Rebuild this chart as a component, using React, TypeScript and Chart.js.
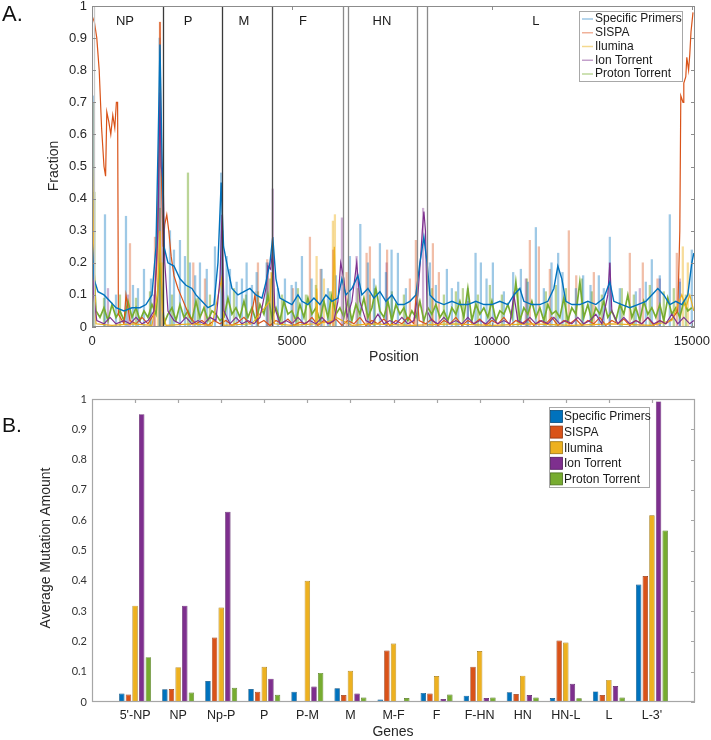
import React, { useEffect, useRef } from 'react';
import { Chart, registerables } from 'chart.js';

Chart.register(...registerables);

const FONT = '"Liberation Sans", Arial, Helvetica, sans-serif';

// ---------------- Panel A data ----------------
const positionTicks = [0, 5000, 10000, 15000];
const positionMax = 15080;
const geneNames = ['NP', 'P', 'M', 'F', 'HN', 'L'];
const geneLabelPositions = [825, 2400, 3800, 5275, 7250, 11100];
const geneBoundaries = [50, 1775, 3250, 4500, 6275, 6400, 8125, 8375];

const platforms = ['Specific Primers', 'SISPA', 'Ilumina', 'Ion Torrent', 'Proton Torrent'];

const primersTrace = [
  [0, 0.28], [50, 0.15], [150, 0.11], [300, 0.1], [450, 0.08], [600, 0.06], [800, 0.05], [1000, 0.06],
  [1200, 0.06], [1350, 0.07], [1500, 0.1], [1600, 0.25], [1650, 0.55], [1700, 0.88], [1740, 0.6],
  [1800, 0.25], [1900, 0.2], [2050, 0.19], [2200, 0.15], [2350, 0.13], [2500, 0.12], [2600, 0.1],
  [2750, 0.08], [2900, 0.06], [3050, 0.07], [3150, 0.2], [3230, 0.45], [3290, 0.25], [3400, 0.18],
  [3500, 0.12], [3650, 0.1], [3800, 0.11], [3950, 0.12], [4100, 0.1], [4250, 0.09], [4350, 0.14],
  [4450, 0.2], [4520, 0.28], [4600, 0.15], [4700, 0.09], [4850, 0.08], [5000, 0.07], [5150, 0.1],
  [5250, 0.08], [5400, 0.07], [5550, 0.09], [5700, 0.07], [5850, 0.1], [6000, 0.08], [6150, 0.09],
  [6250, 0.15], [6350, 0.1], [6500, 0.12], [6650, 0.16], [6750, 0.1], [6900, 0.12], [7050, 0.09],
  [7200, 0.11], [7350, 0.08], [7500, 0.1], [7650, 0.07], [7800, 0.07], [7950, 0.08], [8100, 0.1],
  [8200, 0.2], [8300, 0.28], [8380, 0.2], [8450, 0.1], [8600, 0.08], [8800, 0.07], [9000, 0.08],
  [9200, 0.07], [9400, 0.07], [9600, 0.08], [9800, 0.07], [10000, 0.07], [10200, 0.08], [10400, 0.07],
  [10550, 0.1], [10700, 0.12], [10800, 0.08], [11000, 0.07], [11200, 0.07], [11400, 0.08], [11550, 0.12],
  [11650, 0.19], [11750, 0.15], [11850, 0.08], [12000, 0.07], [12200, 0.07], [12400, 0.08], [12600, 0.07],
  [12800, 0.09], [12950, 0.14], [13050, 0.08], [13250, 0.07], [13450, 0.06], [13650, 0.07], [13850, 0.08],
  [14000, 0.1], [14150, 0.12], [14300, 0.1], [14450, 0.07], [14600, 0.08], [14750, 0.07], [14900, 0.1],
  [15000, 0.2], [15050, 0.23],
];
const primersSpikes = [
  [30, 0.72], [325, 0.35], [600, 0.1], [850, 0.345], [1025, 0.13], [1150, 0.12], [1300, 0.18], [1475, 0.15],
  [1690, 0.9], [1950, 0.3], [2050, 0.24], [2200, 0.27], [2325, 0.22], [2450, 0.2], [2580, 0.16], [2700, 0.2],
  [2870, 0.18], [3075, 0.25], [3230, 0.48], [3367, 0.22], [3450, 0.18], [3617, 0.14], [3750, 0.15],
  [3867, 0.2], [4000, 0.13], [4117, 0.17], [4367, 0.2], [4650, 0.12], [4825, 0.15], [4992, 0.13],
  [5100, 0.14], [5250, 0.22], [5492, 0.15], [5742, 0.18], [5900, 0.12], [6100, 0.16], [6450, 0.22],
  [6710, 0.32], [6900, 0.2], [7050, 0.15], [7200, 0.26], [7350, 0.17], [7492, 0.24], [7650, 0.23],
  [7850, 0.12], [8450, 0.2], [8600, 0.13], [8875, 0.18], [9000, 0.12], [9158, 0.14], [9400, 0.12],
  [9592, 0.23], [9725, 0.2], [9867, 0.15], [10025, 0.2], [10300, 0.11], [10533, 0.17], [10725, 0.18],
  [10900, 0.14], [11100, 0.31], [11300, 0.12], [11492, 0.2], [11658, 0.23], [11767, 0.17], [12100, 0.12],
  [12283, 0.16], [12467, 0.13], [12675, 0.16], [12800, 0.12], [12950, 0.28], [13200, 0.12], [13600, 0.11],
  [13850, 0.14], [14000, 0.21], [14200, 0.16], [14450, 0.35], [14700, 0.14], [15000, 0.24],
];

const sispaTrace = [
  [0, 0.97], [60, 0.95], [120, 0.9], [180, 0.8], [240, 0.62], [300, 0.5], [340, 0.47], [370, 0.67],
  [420, 0.64], [470, 0.6], [520, 0.66], [570, 0.62], [610, 0.7], [640, 0.7], [660, 0.04], [800, 0.01],
  [850, 0.1], [950, 0.02], [1100, 0.01], [1250, 0.03], [1400, 0.01], [1550, 0.04], [1620, 0.2], [1680, 0.6],
  [1700, 0.95], [1730, 0.5], [1780, 0.25], [1820, 0.32], [1870, 0.35], [1920, 0.3], [1980, 0.22],
  [2050, 0.16], [2150, 0.12], [2250, 0.09], [2350, 0.06], [2450, 0.03], [2600, 0.01], [2750, 0.02],
  [2900, 0.005], [3050, 0.02], [3200, 0.01], [3350, 0.02], [3500, 0.005], [3650, 0.015], [3800, 0.03],
  [3950, 0.01], [4075, 0.1], [4150, 0.01], [4300, 0.02], [4450, 0.005], [4600, 0.02], [4750, 0.01],
  [4900, 0.025], [5050, 0.005], [5200, 0.015], [5350, 0.01], [5500, 0.03], [5650, 0.005], [5800, 0.02],
  [5950, 0.01], [6100, 0.025], [6250, 0.005], [6400, 0.02], [6550, 0.01], [6700, 0.03], [6850, 0.005],
  [7000, 0.02], [7150, 0.01], [7300, 0.025], [7450, 0.005], [7600, 0.02], [7750, 0.01], [7900, 0.03],
  [8050, 0.01], [8120, 0.12], [8180, 0.02], [8350, 0.01], [8500, 0.025], [8650, 0.005], [8800, 0.02],
  [8950, 0.01], [9100, 0.03], [9250, 0.005], [9400, 0.02], [9550, 0.01], [9700, 0.025], [9850, 0.005],
  [10000, 0.02], [10150, 0.01], [10300, 0.03], [10450, 0.005], [10600, 0.02], [10750, 0.01], [10900, 0.025],
  [11050, 0.005], [11200, 0.02], [11350, 0.01], [11500, 0.03], [11650, 0.005], [11800, 0.02], [11950, 0.01],
  [12100, 0.025], [12250, 0.005], [12400, 0.02], [12550, 0.01], [12700, 0.03], [12850, 0.005], [13000, 0.02],
  [13150, 0.01], [13300, 0.025], [13450, 0.005], [13600, 0.02], [13750, 0.01], [13900, 0.03], [14050, 0.005],
  [14200, 0.02], [14350, 0.01], [14500, 0.025], [14650, 0.05], [14700, 0.3], [14725, 0.72], [14780, 0.7],
  [14800, 0.76], [14850, 0.78], [14875, 0.84], [14920, 0.8], [14950, 0.85], [14980, 0.92], [15030, 0.98],
];
const sispaSpikes = [
  [950, 0.26], [1575, 0.28], [1700, 0.95], [2533, 0.2], [2825, 0.15], [4150, 0.2], [4383, 0.21],
  [5025, 0.12], [5450, 0.28], [5717, 0.18], [6033, 0.24], [6367, 0.17], [6867, 0.23], [6950, 0.25],
  [7380, 0.24], [7950, 0.15], [8100, 0.27], [8525, 0.26], [8675, 0.17], [10950, 0.27], [11175, 0.25],
  [11450, 0.18], [11925, 0.3], [12110, 0.16], [12550, 0.17], [13450, 0.23], [13775, 0.2], [14142, 0.15],
  [14625, 0.23],
];

const illuminaTrace = [
  [0, 0.6], [40, 0.25], [100, 0.01], [500, 0.005], [1000, 0.01], [1500, 0.005], [1640, 0.1], [1700, 0.3],
  [1760, 0.05], [1850, 0.005], [2500, 0.01], [3000, 0.005], [3240, 0.15], [3300, 0.005], [4000, 0.01],
  [4450, 0.08], [4500, 0.17], [4560, 0.01], [5000, 0.005], [5600, 0.01], [5620, 0.12], [5650, 0.01],
  [6000, 0.02], [6060, 0.25], [6100, 0.03], [6500, 0.005], [7000, 0.01], [8000, 0.005], [9000, 0.01],
  [10000, 0.005], [11000, 0.01], [12000, 0.005], [13000, 0.01], [14000, 0.005], [14500, 0.02],
  [14750, 0.1], [14850, 0.06], [14950, 0.1], [15050, 0.05],
];
const illuminaSpikes = [
  [40, 0.7], [1650, 0.3], [1750, 0.2], [4480, 0.17], [5617, 0.22], [5800, 0.15], [6025, 0.33],
  [6075, 0.35], [14775, 0.25], [14900, 0.2],
];

const ionTrace = [
  [0, 0.3], [40, 0.1], [120, 0.02], [300, 0.01], [450, 0.03], [600, 0.01], [800, 0.02], [950, 0.01],
  [1100, 0.03], [1250, 0.01], [1400, 0.02], [1550, 0.05], [1650, 0.3], [1700, 0.73], [1730, 0.5],
  [1780, 0.45], [1820, 0.2], [1900, 0.05], [2050, 0.02], [2200, 0.01], [2350, 0.03], [2500, 0.01],
  [2650, 0.02], [2800, 0.01], [2950, 0.03], [3100, 0.02], [3200, 0.15], [3250, 0.35], [3300, 0.05],
  [3450, 0.01], [3600, 0.03], [3750, 0.01], [3900, 0.02], [4050, 0.01], [4200, 0.03], [4350, 0.12],
  [4400, 0.19], [4470, 0.18], [4520, 0.25], [4570, 0.06], [4700, 0.01], [4850, 0.02], [5000, 0.01],
  [5150, 0.03], [5300, 0.01], [5450, 0.02], [5600, 0.01], [5750, 0.03], [5900, 0.01], [6050, 0.02],
  [6150, 0.08], [6220, 0.2], [6300, 0.15], [6380, 0.03], [6500, 0.08], [6620, 0.2], [6700, 0.08],
  [6850, 0.02], [7000, 0.01], [7150, 0.04], [7300, 0.01], [7450, 0.02], [7600, 0.01], [7750, 0.03],
  [7900, 0.01], [8050, 0.02], [8150, 0.1], [8220, 0.22], [8260, 0.3], [8300, 0.36], [8340, 0.3],
  [8380, 0.05], [8500, 0.02], [8650, 0.01], [8800, 0.03], [8950, 0.01], [9100, 0.02], [9250, 0.01],
  [9400, 0.03], [9550, 0.01], [9700, 0.02], [9850, 0.01], [10000, 0.03], [10150, 0.01], [10300, 0.02],
  [10450, 0.01], [10550, 0.1], [10650, 0.02], [10800, 0.01], [10950, 0.03], [11100, 0.01], [11250, 0.02],
  [11400, 0.01], [11550, 0.03], [11700, 0.01], [11850, 0.02], [12000, 0.01], [12150, 0.03], [12300, 0.01],
  [12450, 0.02], [12600, 0.04], [12750, 0.01], [12900, 0.1], [12950, 0.2], [13000, 0.05], [13150, 0.01],
  [13300, 0.03], [13450, 0.01], [13600, 0.02], [13750, 0.01], [13900, 0.03], [14050, 0.01], [14200, 0.02],
  [14350, 0.01], [14500, 0.04], [14650, 0.01], [14800, 0.03], [14950, 0.01], [15050, 0.02],
];
const ionSpikes = [
  [400, 0.12], [900, 0.1], [1550, 0.1], [1760, 0.45], [3260, 0.3], [4400, 0.2], [4520, 0.43], [6250, 0.34],
  [6617, 0.22], [7367, 0.2], [8280, 0.37], [9400, 0.08], [10850, 0.15], [12950, 0.2], [13700, 0.12],
  [14200, 0.15], [14700, 0.15],
];

const protonStep = 100;
const protonTrace = [
  0.30, 0.05, 0.03, 0.06, 0.02, 0.07, 0.03, 0.05, 0.02, 0.08,
  0.03, 0.06, 0.02, 0.05, 0.03, 0.07, 0.04, 0.20, 0.01, 0.04,
  0.06, 0.02, 0.07, 0.03, 0.05, 0.02, 0.08, 0.03, 0.06, 0.02,
  0.05, 0.04, 0.02, 0.03, 0.09, 0.04, 0.06, 0.03, 0.08, 0.03,
  0.06, 0.02, 0.07, 0.04, 0.10, 0.03, 0.06, 0.02, 0.08, 0.04,
  0.05, 0.02, 0.07, 0.03, 0.09, 0.04, 0.06, 0.02, 0.08, 0.03,
  0.10, 0.04, 0.06, 0.03, 0.08, 0.02, 0.07, 0.04, 0.09, 0.03,
  0.06, 0.12, 0.05, 0.03, 0.08, 0.02, 0.07, 0.04, 0.06, 0.02,
  0.05, 0.03, 0.08, 0.02, 0.06, 0.04, 0.07, 0.03, 0.05, 0.02,
  0.06, 0.04, 0.08, 0.03, 0.12, 0.02, 0.07, 0.04, 0.06, 0.03,
  0.08, 0.02, 0.05, 0.04, 0.07, 0.03, 0.14, 0.02, 0.06, 0.04,
  0.08, 0.03, 0.06, 0.02, 0.07, 0.04, 0.05, 0.03, 0.09, 0.02,
  0.06, 0.04, 0.14, 0.03, 0.07, 0.02, 0.06, 0.04, 0.08, 0.03,
  0.05, 0.02, 0.07, 0.04, 0.10, 0.03, 0.06, 0.02, 0.08, 0.04,
  0.06, 0.03, 0.07, 0.02, 0.09, 0.04, 0.06, 0.03, 0.08, 0.05,
  0.06,
];
const protonSpikes = [
  [60, 0.42], [300, 0.09], [700, 0.1], [1100, 0.09], [1450, 0.11], [1700, 0.37], [2000, 0.1], [2400, 0.48],
  [2650, 0.09], [2950, 0.1], [3550, 0.12], [3850, 0.1], [4150, 0.11], [4450, 0.15], [4750, 0.1],
  [5150, 0.12], [5350, 0.1], [5600, 0.13], [5950, 0.11], [6650, 0.12], [6950, 0.1], [7075, 0.12],
  [7500, 0.11], [7800, 0.1], [8500, 0.12], [8800, 0.1], [9100, 0.11], [9275, 0.12], [9650, 0.1],
  [9950, 0.13], [10250, 0.1], [10650, 0.12], [10875, 0.15], [11350, 0.11], [11600, 0.13], [11850, 0.12],
  [12250, 0.15], [12500, 0.11], [12750, 0.1], [13250, 0.12], [13550, 0.1], [13950, 0.13], [14300, 0.11],
  [14550, 0.12], [14850, 0.1],
];

// ---------------- Panel B data ----------------
const genes = ["5'-NP", 'NP', 'Np-P', 'P', 'P-M', 'M', 'M-F', 'F', 'F-HN', 'HN', 'HN-L', 'L', "L-3'"];
const primersAvg = [0.028, 0.042, 0.069, 0.043, 0.034, 0.045, 0.008, 0.030, 0.021, 0.032, 0.013, 0.035, 0.388];
const sispaAvg = [0.025, 0.043, 0.213, 0.034, 0.003, 0.023, 0.170, 0.028, 0.116, 0.026, 0.203, 0.023, 0.416];
const illuminaAvg = [0.318, 0.115, 0.312, 0.116, 0.400, 0.103, 0.193, 0.086, 0.168, 0.087, 0.196, 0.073, 0.616];
const ionAvg = [0.950, 0.318, 0.628, 0.077, 0.051, 0.028, 0.003, 0.010, 0.013, 0.023, 0.060, 0.053, 0.992];
const protonAvg = [0.148, 0.031, 0.047, 0.024, 0.096, 0.015, 0.013, 0.025, 0.015, 0.015, 0.012, 0.015, 0.566];

// ---------------- styles ----------------
const lineColors = ['#0072BD', '#D95319', '#EDB120', '#7E2F8E', '#77AC30'];
const spikeColors = [
  'rgba(0,114,189,0.38)', 'rgba(217,83,25,0.38)', 'rgba(237,177,32,0.45)',
  'rgba(126,47,142,0.38)', 'rgba(119,172,48,0.5)',
];
const legendLineColors = ['#9cc7e6', '#f0b199', '#f4d98f', '#c3a0cb', '#bcd79a'];
const barEdgeColors = ['#004a7c', '#8f3510', '#9c7412', '#52195e', '#4b6e1c'];
const boundaryShades = ['#c8c8c8', '#3a3a3a', '#3a3a3a', '#505050', '#8a8a8a', '#8a8a8a', '#8a8a8a', '#8a8a8a'];

const fmt = (v: number) => String(Number(Number(v).toFixed(1)));

const panelAPlugin = {
  id: 'panelADecor',
  afterDatasetsDraw(chart: any) {
    const { ctx, chartArea: a, scales } = chart;
    const x = scales.x;
    const y = scales.y;
    ctx.save();
    geneBoundaries.forEach((b, i) => {
      const px = Math.round(x.getPixelForValue(b)) + 0.5;
      ctx.strokeStyle = boundaryShades[i];
      ctx.lineWidth = 1.3;
      ctx.beginPath();
      ctx.moveTo(px, a.top);
      ctx.lineTo(px, a.bottom);
      ctx.stroke();
    });
    ctx.fillStyle = '#1a1a1a';
    ctx.font = '13px ' + FONT;
    ctx.textAlign = 'center';
    ctx.textBaseline = 'middle';
    geneNames.forEach((g, i) => ctx.fillText(g, x.getPixelForValue(geneLabelPositions[i]), a.top + 15));
    // box
    ctx.strokeStyle = '#8c8c8c';
    ctx.lineWidth = 1;
    ctx.strokeRect(a.left + 0.5, a.top + 0.5, a.right - a.left - 1, a.bottom - a.top - 1);
    // inward ticks
    ctx.beginPath();
    positionTicks.forEach((t) => {
      const px = Math.round(x.getPixelForValue(t)) + 0.5;
      ctx.moveTo(px, a.top);
      ctx.lineTo(px, a.top + 4);
      ctx.moveTo(px, a.bottom);
      ctx.lineTo(px, a.bottom - 4);
    });
    y.ticks.forEach((t: any) => {
      const py = Math.round(y.getPixelForValue(t.value)) + 0.5;
      ctx.moveTo(a.right, py);
      ctx.lineTo(a.right - 4, py);
      ctx.moveTo(a.left, py);
      ctx.lineTo(a.left + 4, py);
    });
    ctx.stroke();
    // legend
    const lw = 103;
    const lh = 70;
    const lx = a.right - 13 - lw;
    const ly = a.top + 5;
    ctx.fillStyle = '#ffffff';
    ctx.fillRect(lx, ly, lw, lh);
    ctx.strokeStyle = '#a8a8a8';
    ctx.strokeRect(lx + 0.5, ly + 0.5, lw, lh);
    ctx.font = '12px ' + FONT;
    ctx.textAlign = 'left';
    platforms.forEach((n, i) => {
      const cy = ly + 8 + i * 13.75;
      ctx.strokeStyle = legendLineColors[i];
      ctx.lineWidth = 1.5;
      ctx.beginPath();
      ctx.moveTo(lx + 3, cy);
      ctx.lineTo(lx + 14, cy);
      ctx.stroke();
      ctx.fillStyle = '#1a1a1a';
      ctx.fillText(n, lx + 16, cy);
    });
    ctx.restore();
  },
};

const panelBPlugin = {
  id: 'panelBDecor',
  afterDatasetsDraw(chart: any) {
    const { ctx, chartArea: a, scales } = chart;
    const x = scales.x;
    const y = scales.y;
    ctx.save();
    ctx.strokeStyle = '#a6a6a6';
    ctx.lineWidth = 1.2;
    ctx.strokeRect(a.left + 0.5, a.top + 0.5, a.right - a.left - 1, a.bottom - a.top - 1);
    ctx.beginPath();
    genes.forEach((_, i) => {
      const px = Math.round(x.getPixelForTick(i + 1)) + 0.5;
      ctx.moveTo(px, a.top);
      ctx.lineTo(px, a.top + 4);
    });
    y.ticks.forEach((t: any) => {
      const py = Math.round(y.getPixelForValue(t.value)) + 0.5;
      ctx.moveTo(a.right, py);
      ctx.lineTo(a.right - 4, py);
    });
    ctx.stroke();
    // legend
    const lw = 100;
    const lh = 80;
    const lx = a.right - 46 - lw;
    const ly = a.top + 8;
    ctx.fillStyle = '#ffffff';
    ctx.fillRect(lx, ly, lw, lh);
    ctx.strokeStyle = '#a8a8a8';
    ctx.lineWidth = 1;
    ctx.strokeRect(lx + 0.5, ly + 0.5, lw, lh);
    ctx.font = '12px ' + FONT;
    ctx.textAlign = 'left';
    ctx.textBaseline = 'middle';
    platforms.forEach((n, i) => {
      const cy = ly + 9.5 + i * 15.6;
      ctx.fillStyle = lineColors[i];
      ctx.fillRect(lx + 1.5, cy - 6, 12, 12);
      ctx.strokeStyle = barEdgeColors[i];
      ctx.lineWidth = 0.8;
      ctx.strokeRect(lx + 1.5, cy - 6, 12, 12);
      ctx.fillStyle = '#1a1a1a';
      ctx.fillText(n, lx + 15, cy + 0.5);
    });
    ctx.restore();
  },
};

function buildPanelA(canvas: HTMLCanvasElement) {
  const traces = [primersTrace, sispaTrace, illuminaTrace, ionTrace, protonTrace.map((v, i) => [i * protonStep, v])];
  const spikes = [primersSpikes, sispaSpikes, illuminaSpikes, ionSpikes, protonSpikes];
  const lineOrder = [2, 5, 4, 3, 6];
  const widths = [1.4, 1.2, 1.2, 1.2, 1.7];
  const datasets: any[] = [];
  traces.forEach((t, i) => {
    datasets.push({
      type: 'line',
      label: platforms[i],
      data: t.map(([px, py]) => ({ x: px, y: py })),
      borderColor: lineColors[i],
      borderWidth: widths[i],
      pointRadius: 0,
      tension: 0,
      fill: false,
      order: lineOrder[i],
    });
  });
  spikes.forEach((s, i) => {
    datasets.push({
      type: 'bar',
      label: platforms[i] + ' (raw)',
      data: s.map(([px, py]) => ({ x: px, y: py })),
      backgroundColor: spikeColors[i],
      borderWidth: 0,
      barThickness: 1.6,
      grouped: false,
      order: 20 + i,
    });
  });
  return new Chart(canvas, {
    type: 'line',
    data: { datasets },
    options: {
      animation: false,
      responsive: false,
      events: [],
      layout: { padding: { top: 6, right: 16, left: 0, bottom: 0 } },
      plugins: { legend: { display: false }, tooltip: { enabled: false } },
      scales: {
        x: {
          type: 'linear',
          min: 0,
          max: positionMax,
          offset: false,
          grid: { display: false, drawTicks: false },
          border: { display: false },
          ticks: {
            font: { family: FONT, size: 13 },
            color: '#262626',
            padding: 7,
            maxRotation: 0,
            callback: (v: any) => String(v),
          },
          afterBuildTicks: (s: any) => {
            s.ticks = positionTicks.map((v) => ({ value: v }));
          },
          afterFit: (s: any) => {
            s.height = 43;
            s.paddingLeft = 0;
            s.paddingRight = 0;
          },
        },
        y: {
          type: 'linear',
          min: 0,
          max: 1,
          grid: { display: false, drawTicks: false },
          border: { display: false },
          ticks: {
            stepSize: 0.1,
            font: { family: FONT, size: 13 },
            color: '#262626',
            padding: 5,
            callback: (v: any) => fmt(v),
          },
          afterFit: (s: any) => {
            s.width = 92;
            s.paddingTop = 0;
            s.paddingBottom = 0;
          },
        },
      },
    },
    plugins: [panelAPlugin],
  } as any);
}

function buildPanelB(canvas: HTMLCanvasElement) {
  const labels = ['', ...genes, ''];
  const series = [primersAvg, sispaAvg, illuminaAvg, ionAvg, protonAvg];
  const datasets = series.map((vals, i) => ({
    label: platforms[i],
    data: [null, ...vals, null],
    backgroundColor: lineColors[i],
    borderColor: barEdgeColors[i],
    borderWidth: 0.7,
    categoryPercentage: 0.77,
    barPercentage: 0.82,
  }));
  return new Chart(canvas, {
    type: 'bar',
    data: { labels, datasets },
    options: {
      animation: false,
      responsive: false,
      events: [],
      layout: { padding: { top: 29, right: 16, left: 0, bottom: 0 } },
      plugins: { legend: { display: false }, tooltip: { enabled: false } },
      scales: {
        x: {
          type: 'category',
          offset: false,
          grid: { display: false, drawTicks: false, offset: false },
          border: { display: false },
          ticks: {
            autoSkip: false,
            maxRotation: 0,
            font: { family: FONT, size: 12.5 },
            color: '#222',
            padding: 6,
          },
          afterFit: (s: any) => {
            s.height = 38;
            s.paddingLeft = 0;
            s.paddingRight = 0;
          },
        },
        y: {
          type: 'linear',
          min: 0,
          max: 1,
          grid: { display: false, drawTicks: false },
          border: { display: false },
          ticks: {
            stepSize: 0.1,
            font: { family: 'Lato, "DejaVu Sans", sans-serif', size: 11 },
            color: '#333',
            padding: 5,
            callback: (v: any) => fmt(v),
          },
          afterFit: (s: any) => {
            s.width = 92;
            s.paddingTop = 0;
            s.paddingBottom = 0;
          },
        },
      },
    },
    plugins: [panelBPlugin],
  } as any);
}

const textBase: React.CSSProperties = {
  position: 'absolute',
  fontFamily: FONT,
  color: '#262626',
  whiteSpace: 'nowrap',
  lineHeight: 1,
};

export default function App() {
  const refA = useRef<HTMLCanvasElement>(null);
  const refB = useRef<HTMLCanvasElement>(null);

  useEffect(() => {
    const a = buildPanelA(refA.current as HTMLCanvasElement);
    const b = buildPanelB(refB.current as HTMLCanvasElement);
    return () => {
      a.destroy();
      b.destroy();
    };
  }, []);

  return (
    <div style={{ position: 'absolute', left: 0, top: 0, width: 711, height: 740, background: '#fff', overflow: 'hidden' }}>
      <canvas ref={refA} width={711} height={370} style={{ position: 'absolute', left: 0, top: 0, width: 711, height: 370 }} />
      <canvas ref={refB} width={711} height={370} style={{ position: 'absolute', left: 0, top: 370, width: 711, height: 370 }} />
      <div style={{ ...textBase, left: 2, top: 3, fontSize: 22, color: '#111' }}>A.</div>
      <div style={{ ...textBase, left: 53, top: 166, fontSize: 14, transform: 'translate(-50%, -50%) rotate(-90deg)' }}>Fraction</div>
      <div style={{ ...textBase, left: 394, top: 356, fontSize: 14, transform: 'translate(-50%, -50%)' }}>Position</div>
      <div style={{ ...textBase, left: 2, top: 414, fontSize: 21, color: '#111' }}>B.</div>
      <div style={{ ...textBase, left: 45, top: 548, fontSize: 14, transform: 'translate(-50%, -50%) rotate(-90deg)' }}>Average Mutation Amount</div>
      <div style={{ ...textBase, left: 393, top: 731, fontSize: 14, transform: 'translate(-50%, -50%)' }}>Genes</div>
    </div>
  );
}
